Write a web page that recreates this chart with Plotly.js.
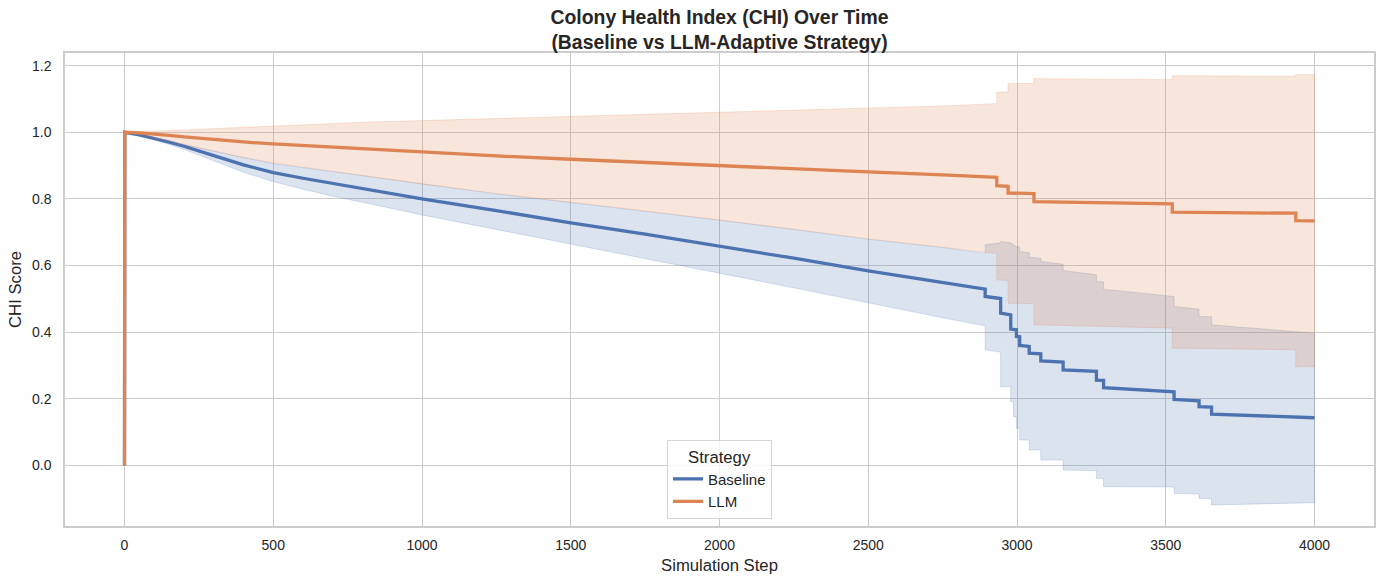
<!DOCTYPE html>
<html>
<head>
<meta charset="utf-8">
<script src="https://cdn.plot.ly/plotly-3.0.1.min.js"></script>
<style>html,body{margin:0;padding:0;background:#fff;}#chart{width:1384px;height:584px;}</style>
</head>
<body>
<div id="chart"></div>
<script>
// Baseline strategy
const steps_baseline = [0, 1, 50, 100, 150, 200, 250, 300, 400, 500, 600, 700, 800, 1000, 1250, 1500, 1750, 2000, 2250, 2500, 2750,
  2893, 2893, 2945, 2945, 2979, 2979, 2988, 2988, 2998, 2998, 3009, 3009, 3041, 3041, 3080, 3080, 3155, 3155, 3267, 3267, 3291, 3291,
  3528, 3528, 3612, 3612, 3654, 3654, 4000];
const chi_baseline_mean = [0, 1.0, 0.992, 0.982, 0.970, 0.958, 0.945, 0.930, 0.902, 0.879, 0.862, 0.846, 0.832, 0.800, 0.765, 0.728, 0.694, 0.659, 0.622, 0.584, 0.550,
  0.529, 0.507, 0.501, 0.457, 0.452, 0.409, 0.408, 0.408, 0.407, 0.387, 0.386, 0.360, 0.357, 0.337, 0.335, 0.3135, 0.310, 0.2865, 0.282, 0.256, 0.255, 0.233,
  0.221, 0.198, 0.194, 0.176, 0.175, 0.154, 0.143];
const chi_baseline_low = [0, 1.0, 0.990, 0.978, 0.963, 0.949, 0.933, 0.915, 0.880, 0.852, 0.829, 0.808, 0.790, 0.752, 0.708, 0.665, 0.621, 0.577, 0.533, 0.489, 0.443,
  0.419, 0.347, 0.340, 0.236, 0.236, 0.191, 0.191, 0.146, 0.146, 0.111, 0.111, 0.076, 0.076, 0.046, 0.046, 0.016, 0.016, -0.014, -0.016, -0.039, -0.039, -0.064,
  -0.065, -0.084, -0.086, -0.099, -0.100, -0.119, -0.112];
const chi_baseline_high = [0, 1.0, 0.994, 0.985, 0.975, 0.963, 0.953, 0.943, 0.924, 0.906, 0.894, 0.881, 0.869, 0.845, 0.815, 0.789, 0.763, 0.736, 0.708, 0.679, 0.654,
  0.637, 0.662, 0.668, 0.672, 0.668, 0.665, 0.664, 0.660, 0.659, 0.657, 0.655, 0.642, 0.638, 0.625, 0.622, 0.612, 0.604, 0.585, 0.572, 0.552, 0.551, 0.529,
  0.507, 0.477, 0.469, 0.447, 0.446, 0.422, 0.397];

// LLM-adaptive strategy
const steps_llm = [0, 1, 50, 100, 150, 200, 250, 300, 400, 500, 600, 700, 800, 1000, 1250, 1500, 1750, 2000, 2250, 2500, 2750,
  2932, 2932, 2970, 2970, 3057, 3057, 3522, 3522, 3937, 3937, 4000];
const chi_llm_mean = [0, 1.0, 0.998, 0.995, 0.991, 0.986, 0.982, 0.978, 0.971, 0.965, 0.960, 0.955, 0.950, 0.940, 0.929, 0.919, 0.909, 0.900, 0.890, 0.881, 0.872,
  0.8645, 0.8395, 0.838, 0.8175, 0.816, 0.792, 0.785, 0.760, 0.757, 0.735, 0.734];
const chi_llm_high = [0, 1.0, 1.002, 1.003, 1.005, 1.007, 1.009, 1.011, 1.016, 1.020, 1.024, 1.027, 1.030, 1.035, 1.042, 1.048, 1.054, 1.060, 1.066, 1.072, 1.079,
  1.086, 1.120, 1.121, 1.146, 1.147, 1.161, 1.158, 1.170, 1.168, 1.173, 1.173];
const chi_llm_low = [0, 1.0, 0.994, 0.985, 0.975, 0.963, 0.953, 0.943, 0.924, 0.908, 0.894, 0.881, 0.870, 0.845, 0.816, 0.790, 0.764, 0.737, 0.709, 0.680, 0.655,
  0.636, 0.557, 0.555, 0.487, 0.485, 0.422, 0.412, 0.352, 0.347, 0.296, 0.296];

const xTicks = [0, 500, 1000, 1500, 2000, 2500, 3000, 3500, 4000];
const yTicks = [0.0, 0.2, 0.4, 0.6, 0.8, 1.0, 1.2];

const BLUE = '#4c72b0', ORANGE = '#dd8452';

function band(xs, lo, hi, rgb) {
  return {
    x: xs.concat(xs.slice().reverse()),
    y: hi.concat(lo.slice().reverse()),
    type: 'scatter', mode: 'lines', fill: 'toself',
    fillcolor: 'rgba(' + rgb + ',0.2)',
    line: {color: 'rgba(' + rgb + ',0.2)', width: 1},
    showlegend: false, hoverinfo: 'skip'
  };
}

const traces = [
  band(steps_baseline, chi_baseline_low, chi_baseline_high, '76,114,176'),
  {x: steps_baseline, y: chi_baseline_mean, type: 'scatter', mode: 'lines', name: 'Baseline',
   line: {color: BLUE, width: 3.3}},
  band(steps_llm, chi_llm_low, chi_llm_high, '221,132,82'),
  {x: steps_llm, y: chi_llm_mean, type: 'scatter', mode: 'lines', name: 'LLM',
   line: {color: ORANGE, width: 3.3}}
];

const FONT = 'Liberation Sans, Arial, Helvetica, sans-serif';
const TXT = '#262626';

const layout = {
  width: 1384, height: 584,
  paper_bgcolor: '#ffffff', plot_bgcolor: '#ffffff',
  margin: {l: 65, r: 10, t: 53, b: 58, pad: 0},
  font: {family: FONT, color: TXT, size: 14},
  title: {
    text: '<b>Colony Health Index (CHI) Over Time<br>(Baseline vs LLM-Adaptive Strategy)</b>',
    font: {family: FONT, size: 19.4, color: TXT},
    x: 0.5, xref: 'paper', xanchor: 'center',
    y: 0.9595, yref: 'container', yanchor: 'middle'
  },
  xaxis: {
    range: [-200, 4200], tickvals: xTicks, ticktext: xTicks.map(String),
    showgrid: true, gridcolor: '#cccccc', gridwidth: 1,
    zeroline: false, showline: true, mirror: true, linecolor: '#cccccc', linewidth: 1.7,
    ticks: 'outside', ticklen: 5, tickcolor: 'rgba(0,0,0,0)',
    tickfont: {family: FONT, size: 14, color: TXT},
    title: {text: 'Simulation Step', font: {family: FONT, size: 16.7, color: TXT}, standoff: 8}
  },
  yaxis: {
    range: [-0.182, 1.238], tickvals: yTicks, ticktext: yTicks.map(v => v.toFixed(1)),
    showgrid: true, gridcolor: '#cccccc', gridwidth: 1,
    zeroline: false, showline: true, mirror: true, linecolor: '#cccccc', linewidth: 1.7,
    ticks: 'outside', ticklen: 9, tickcolor: 'rgba(0,0,0,0)',
    tickfont: {family: FONT, size: 14, color: TXT},
    title: {text: 'CHI Score', font: {family: FONT, size: 16.7, color: TXT}, standoff: 6}
  },
  legend: {
    x: 0.5, xanchor: 'center', y: 0.015, yanchor: 'bottom',
    bgcolor: 'rgba(255,255,255,0.8)', bordercolor: '#d5d5d5', borderwidth: 1,
    font: {family: FONT, size: 15, color: TXT},
    title: {text: 'Strategy', side: 'top center', font: {family: FONT, size: 16.7, color: TXT}},
    tracegroupgap: 0
  },
  showlegend: true
};

Plotly.newPlot('chart', traces, layout, {staticPlot: true, displayModeBar: false});
</script>
</body>
</html>
